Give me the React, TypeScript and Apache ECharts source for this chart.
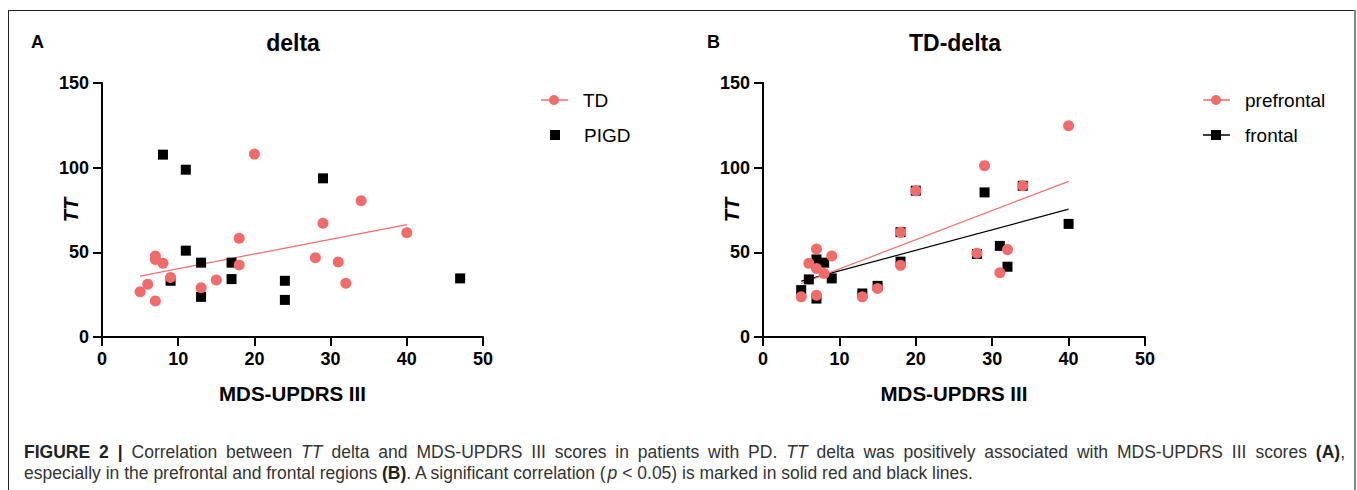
import React, { useEffect, useRef } from "react";
import * as echarts from "echarts";

// Panel A: delta
const tdX = [5, 6, 7, 7, 7, 8, 9, 13, 15, 18, 18, 20, 28, 29, 31, 32, 34, 40];
const tdY = [26.7, 31.2, 21.3, 47.8, 45.8, 43.5, 35.2, 29.1, 33.6, 58.3, 42.5, 108, 46.8, 67.2, 44.3, 31.8, 80.4, 61.5];
const pigdX = [8, 11, 11, 9, 13, 13, 17, 17, 24, 24, 29, 47];
const pigdY = [107.7, 98.8, 51, 33.2, 43.9, 23.7, 43.9, 34.2, 33.2, 21.9, 93.7, 34.6];
const tdFitX = [5, 40];
const tdFitY = [36, 66.4];

// Panel B: TD-delta
const prefX = [5, 6, 7, 7, 7, 8, 9, 13, 15, 18, 18, 20, 28, 29, 31, 32, 34, 40];
const prefY = [23.7, 43.5, 52, 40.5, 24.7, 37.5, 47.8, 23.7, 28.7, 61.9, 42.3, 86.4, 49.4, 101.2, 37.9, 51.6, 89.3, 124.7];
const frontX = [5, 6, 7, 7, 8, 9, 13, 15, 18, 18, 20, 28, 29, 31, 32, 34, 40];
const frontY = [27.7, 34, 45.8, 22.7, 43.9, 34.6, 25.7, 30.2, 44.5, 61.9, 86.4, 49, 85.4, 53.8, 41.5, 89.3, 66.8];
const prefFitX = [5, 40];
const prefFitY = [31.6, 91.9];
const frontFitX = [5, 40];
const frontFitY = [33, 75.5];

const xTicks = [0, 10, 20, 30, 40, 50];
const yTicks = [0, 50, 100, 150];

// Caption text (first line is justified word by word)
const captionLine1Words = [
  "{b|FIGURE}", "{b|2}", "{b||}", "Correlation", "between", "{i|TT}", "delta", "and", "MDS-UPDRS", "III",
  "scores", "in", "patients", "with", "PD.", "{i|TT}", "delta", "was", "positively", "associated", "with",
  "MDS-UPDRS", "III", "scores", "{b|(A)},",
];
const captionLine2 =
  "especially in the prefrontal and frontal regions {b|(B)}. A significant correlation ({i|p} < 0.05) is marked in solid red and black lines.";

const RED = "#f26b6b";
const BLACK = "#000000";
const FONT = "Liberation Sans, Arial, Helvetica, sans-serif";
const CAP_SIZE = 17.5;

const zip = (xs: number[], ys: number[]) => xs.map((x, i) => [x, ys[i]]);

function makeX(gridIndex: number) {
  return {
    type: "value",
    gridIndex,
    min: xTicks[0],
    max: xTicks[xTicks.length - 1],
    interval: 10,
    name: "MDS-UPDRS III",
    nameLocation: "middle",
    nameGap: 46,
    nameMoveOverlap: false,
    nameTextStyle: { fontFamily: FONT, fontWeight: "bold", fontSize: 20.5, color: "#000" },
    axisLine: { show: true, onZero: false, lineStyle: { color: "#000", width: 2 } },
    axisTick: { show: true, length: 9, lineStyle: { color: "#000", width: 2 } },
    axisLabel: { fontFamily: FONT, fontWeight: "bold", fontSize: 18, color: "#000", margin: 13 },
    splitLine: { show: false },
  };
}

function makeY(gridIndex: number) {
  return {
    type: "value",
    gridIndex,
    min: yTicks[0],
    max: yTicks[yTicks.length - 1],
    interval: 50,
    name: "TT",
    nameLocation: "middle",
    nameGap: 21,
    nameRotate: 90,
    nameMoveOverlap: false,
    nameTextStyle: { fontFamily: FONT, fontWeight: "bold", fontStyle: "italic", fontSize: 20, color: "#000" },
    axisLine: { show: true, onZero: false, lineStyle: { color: "#000", width: 2 } },
    axisTick: { show: true, length: 9, lineStyle: { color: "#000", width: 2 } },
    axisLabel: { fontFamily: FONT, fontWeight: "bold", fontSize: 18, color: "#000", margin: 13 },
    splitLine: { show: false },
  };
}

function legendItem(x: number, y: number, label: string, color: string, symbol: "circle" | "square", withLine: boolean) {
  const children: any[] = [];
  if (withLine) {
    children.push({
      type: "line",
      shape: { x1: x - 13, y1: y, x2: x + 14, y2: y },
      style: { stroke: color, lineWidth: 1.5 },
    });
  }
  if (symbol === "circle") {
    children.push({ type: "circle", shape: { cx: x, cy: y, r: 5 }, style: { fill: color } });
  } else {
    children.push({ type: "rect", shape: { x: x - 5, y: y - 5, width: 10, height: 10 }, style: { fill: color } });
  }
  children.push({
    type: "text",
    x: x + 29,
    y,
    style: { text: label, fill: "#000", font: `19px ${FONT}`, verticalAlign: "middle", align: "left" },
  });
  return { type: "group", children };
}

const captionRich = {
  b: { fontWeight: "bold", fontSize: CAP_SIZE, fontFamily: FONT, fill: "#222" },
  i: { fontStyle: "italic", fontSize: CAP_SIZE, fontFamily: FONT, fill: "#333" },
};

function captionText(x: number, y: number, text: string, align: string) {
  return {
    type: "text",
    x,
    y,
    style: {
      text,
      fill: "#333",
      font: `${CAP_SIZE}px ${FONT}`,
      align,
      verticalAlign: "middle",
      rich: captionRich,
    },
  };
}

function measureWord(ctx: CanvasRenderingContext2D | null, word: string): number {
  const re = /\{(\w+)\|([^}]*)\}|([^{]+)/g;
  let m: RegExpExecArray | null;
  let w = 0;
  while ((m = re.exec(word)) !== null) {
    let font = `${CAP_SIZE}px ${FONT}`;
    let t = m[3] || "";
    if (m[1]) {
      t = m[2];
      font = m[1] === "b" ? `bold ${CAP_SIZE}px ${FONT}` : `italic ${CAP_SIZE}px ${FONT}`;
    }
    if (ctx) {
      ctx.font = font;
      w += ctx.measureText(t).width;
    } else {
      w += t.length * CAP_SIZE * 0.5;
    }
  }
  return w;
}

function justifiedLine(words: string[], x0: number, x1: number, y: number) {
  const canvas = document.createElement("canvas");
  const ctx = canvas.getContext("2d");
  const widths = words.map((w) => measureWord(ctx, w));
  const total = widths.reduce((a, b) => a + b, 0);
  const gap = (x1 - x0 - total) / (words.length - 1);
  const out: any[] = [];
  let x = x0;
  words.forEach((w, i) => {
    out.push(captionText(x, y, w, "left"));
    x += widths[i] + gap;
  });
  return out;
}

export default function App() {
  const ref = useRef<HTMLDivElement>(null);

  useEffect(() => {
    if (!ref.current) return;
    const chart = echarts.init(ref.current, null, { renderer: "svg" });
    const option: any = {
      animation: false,
      backgroundColor: "#ffffff",
      grid: [
        { left: 102, top: 83, width: 381, height: 254 },
        { left: 763, top: 83, width: 382, height: 254 },
      ],
      xAxis: [makeX(0), makeX(1)],
      yAxis: [makeY(0), makeY(1)],
      series: [
        {
          name: "TD fit",
          type: "line",
          xAxisIndex: 0,
          yAxisIndex: 0,
          data: zip(tdFitX, tdFitY),
          showSymbol: false,
          symbol: "none",
          lineStyle: { color: RED, width: 1.2 },
          z: 1,
        },
        {
          name: "PIGD",
          type: "scatter",
          xAxisIndex: 0,
          yAxisIndex: 0,
          data: zip(pigdX, pigdY),
          symbol: "rect",
          symbolSize: 10,
          itemStyle: { color: BLACK, opacity: 1 },
          z: 2,
        },
        {
          name: "TD",
          type: "scatter",
          xAxisIndex: 0,
          yAxisIndex: 0,
          data: zip(tdX, tdY),
          symbol: "circle",
          symbolSize: 11,
          itemStyle: { color: RED, opacity: 1 },
          z: 3,
        },
        {
          name: "frontal fit",
          type: "line",
          xAxisIndex: 1,
          yAxisIndex: 1,
          data: zip(frontFitX, frontFitY),
          showSymbol: false,
          symbol: "none",
          lineStyle: { color: BLACK, width: 1.2 },
          z: 1,
        },
        {
          name: "prefrontal fit",
          type: "line",
          xAxisIndex: 1,
          yAxisIndex: 1,
          data: zip(prefFitX, prefFitY),
          showSymbol: false,
          symbol: "none",
          lineStyle: { color: RED, width: 1.2 },
          z: 1,
        },
        {
          name: "frontal",
          type: "scatter",
          xAxisIndex: 1,
          yAxisIndex: 1,
          data: zip(frontX, frontY),
          symbol: "rect",
          symbolSize: 10,
          itemStyle: { color: BLACK, opacity: 1 },
          z: 2,
        },
        {
          name: "prefrontal",
          type: "scatter",
          xAxisIndex: 1,
          yAxisIndex: 1,
          data: zip(prefX, prefY),
          symbol: "circle",
          symbolSize: 11,
          itemStyle: { color: RED, opacity: 1 },
          z: 3,
        },
      ],
      graphic: [
        // figure frame
        { type: "line", shape: { x1: 8.5, y1: 10, x2: 8.5, y2: 490 }, style: { stroke: "#222", lineWidth: 1 } },
        { type: "line", shape: { x1: 8, y1: 10.5, x2: 1355, y2: 10.5 }, style: { stroke: "#222", lineWidth: 1 } },
        { type: "line", shape: { x1: 1355, y1: 10, x2: 1355, y2: 490 }, style: { stroke: "#888", lineWidth: 2 } },
        // panel letters and titles
        { type: "text", x: 31, y: 42, style: { text: "A", fill: "#000", font: `bold 18px ${FONT}`, verticalAlign: "middle" } },
        { type: "text", x: 293, y: 43, style: { text: "delta", fill: "#000", font: `bold 23px ${FONT}`, align: "center", verticalAlign: "middle" } },
        { type: "text", x: 707, y: 42, style: { text: "B", fill: "#000", font: `bold 18px ${FONT}`, verticalAlign: "middle" } },
        { type: "text", x: 955, y: 43, style: { text: "TD-delta", fill: "#000", font: `bold 23px ${FONT}`, align: "center", verticalAlign: "middle" } },
        // legends
        legendItem(554, 100, "TD", RED, "circle", true),
        legendItem(555, 135, "PIGD", BLACK, "square", false),
        legendItem(1216, 100, "prefrontal", RED, "circle", true),
        legendItem(1216, 135, "frontal", BLACK, "square", true),
        // caption
        ...justifiedLine(captionLine1Words, 24, 1345, 452),
        captionText(24, 473, captionLine2, "left"),
      ],
    };
    chart.setOption(option);
    return () => chart.dispose();
  }, []);

  return (
    <div
      ref={ref}
      style={{ position: "absolute", left: 0, top: 0, width: 1357, height: 490, background: "#fff" }}
    />
  );
}
